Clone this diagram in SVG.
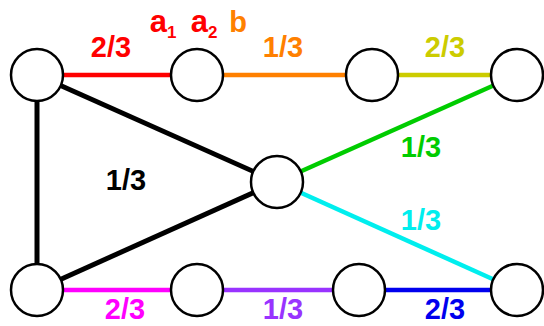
<svg xmlns="http://www.w3.org/2000/svg" width="544" height="326" viewBox="0 0 544 326">
<style>
.n{fill:#fff;stroke:#000;stroke-width:2.5}
.e{stroke-width:4.5;fill:none}
.k{stroke:#000;stroke-width:5}
text{font-family:"Liberation Sans",Arial,sans-serif;font-weight:bold;font-size:29px;text-anchor:middle}
.s{font-size:17px}
</style>
<rect width="544" height="326" fill="#fff"/>
<g id="connectors">
<line class="e" x1="37" y1="75" x2="197" y2="75" stroke="#ff0000"/>
<line class="e" x1="197" y1="75" x2="372" y2="75" stroke="#ff8000"/>
<line class="e" x1="372" y1="75" x2="517" y2="75" stroke="#cccc00"/>
<line class="e" x1="277" y1="182" x2="517" y2="75" stroke="#00cc00"/>
<line class="e" x1="277" y1="182" x2="517" y2="290" stroke="#00eeee"/>
<line class="e" x1="37" y1="290" x2="197" y2="290" stroke="#ff00ff"/>
<line class="e" x1="197" y1="290" x2="359" y2="290" stroke="#9933ff"/>
<line class="e" x1="359" y1="290" x2="517" y2="290" stroke="#0000ee"/>
<line class="k" x1="37" y1="75" x2="37" y2="290"/>
<line class="k" x1="37" y1="75" x2="277" y2="182"/>
<line class="k" x1="37" y1="290" x2="277" y2="182"/>
</g>
<g id="n1"><circle class="n" cx="37" cy="75" r="26"/></g>
<g id="n2"><circle class="n" cx="197" cy="75" r="26"/></g>
<g id="n3"><circle class="n" cx="372" cy="75" r="26"/></g>
<g id="n4"><circle class="n" cx="517" cy="75" r="26"/></g>
<g id="n5"><circle class="n" cx="277" cy="182" r="26"/></g>
<g id="n6"><circle class="n" cx="37" cy="290" r="26"/></g>
<g id="n7"><circle class="n" cx="197" cy="290" r="26"/></g>
<g id="n8"><circle class="n" cx="359" cy="290" r="26"/></g>
<g id="n9"><circle class="n" cx="517" cy="290" r="26"/></g>
<g id="labels">
<text x="111" y="57" fill="#ff0000">2/3</text>
<text x="163" y="32" fill="#ff0000" style="font-size:31px">a<tspan class="s" dy="6">1</tspan></text>
<text x="204" y="32" fill="#ff0000" style="font-size:31px">a<tspan class="s" dy="6">2</tspan></text>
<text x="238" y="32" fill="#ff8000">b</text>
<text x="283" y="57" fill="#ff8000">1/3</text>
<text x="445" y="57" fill="#cccc00">2/3</text>
<text x="421" y="157" fill="#00cc00">1/3</text>
<text x="126" y="190" fill="#000">1/3</text>
<text x="421" y="230" fill="#00eeee">1/3</text>
<text x="125" y="319" fill="#ff00ff">2/3</text>
<text x="283" y="319" fill="#9933ff">1/3</text>
<text x="445" y="319" fill="#0000ee">2/3</text>
</g>
</svg>
